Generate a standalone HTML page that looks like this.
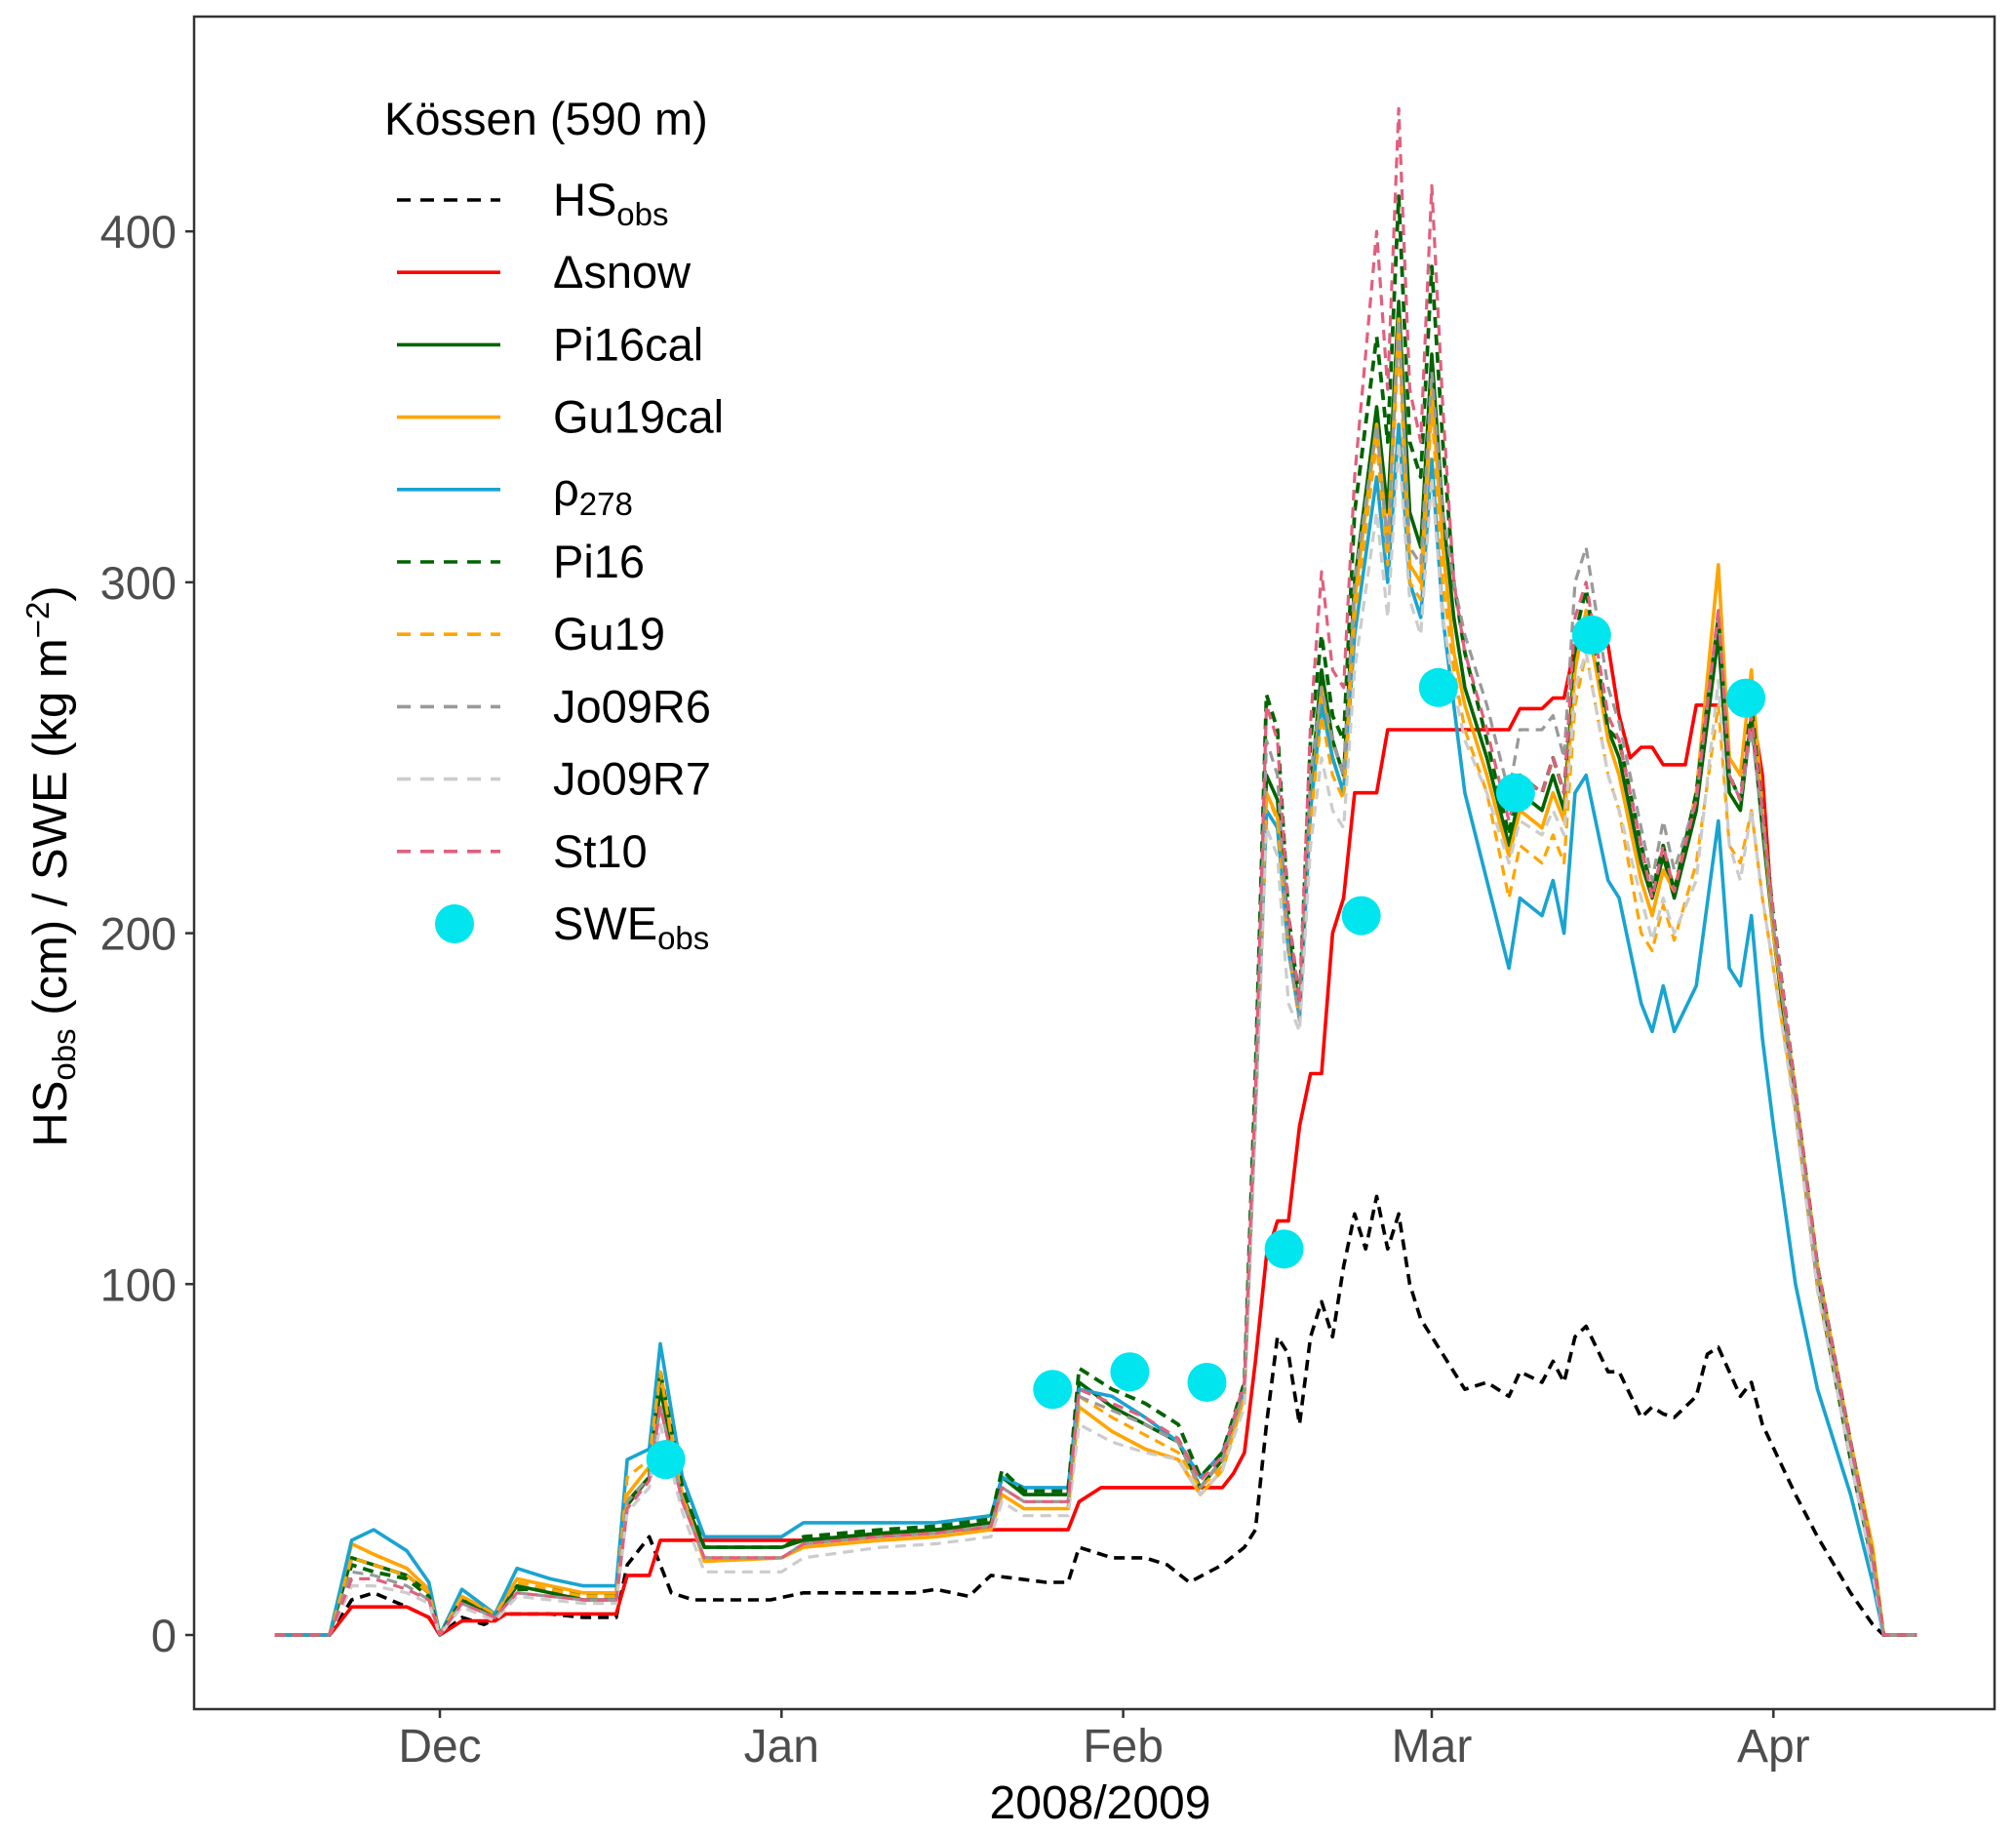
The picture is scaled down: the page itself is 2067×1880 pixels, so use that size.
<!DOCTYPE html>
<html><head><meta charset="utf-8"><style>
html,body{margin:0;padding:0;background:#fff}
svg{display:block;font-family:"Liberation Sans",Arial,sans-serif}
</style></head><body>
<svg id="chart" width="2067" height="1880" viewBox="0 0 2067 1880" xmlns="http://www.w3.org/2000/svg">
<rect x="0" y="0" width="2067" height="1880" fill="#fff"/>
<g id="series"></g>
<rect x="199" y="17" width="1846" height="1735" fill="none" stroke="#333" stroke-width="2.5"/>
<g id="axes"></g>
<text x="1128" y="1864" font-size="48" text-anchor="middle" fill="#000">2008/2009</text>
<text transform="translate(68,888) rotate(-90)" font-size="49" text-anchor="middle" fill="#000">HS<tspan font-size="33" dy="9">obs</tspan><tspan dy="-9"> (cm) / SWE (kg m</tspan><tspan font-size="33" dy="-18">−2</tspan><tspan dy="18">)</tspan></text>
<g font-size="47" fill="#000">
<text x="394" y="138">Kössen (590 m)</text>
</g>
<g id="legend-entries" font-size="47"></g>
</svg>
<script>
const NS="http://www.w3.org/2000/svg";
const days=[-15,-10,-8,-6,-3,-1,0,2,5,7,10,13,16,17,19,20,22,24,31,33,40,45,50,51,53,57,58,61,64,67,69,71,73,74,75,76,77,78,79,80,81,82,83,85,86,87,88,89,90,91,92,93,95,97,98,100,101,102,103,104,106,107,109,110,111,112,114,116,117,118,119,120,121,123,125,128,130,131,134];
const pi16cal=[0,0,22,20,17,12,0,10,5,14,12,10,10,38,45,70,40,25,25,27,29,30,32,45,40,40,72,65,60,55,42,50,70,150,245,238,200,178,240,275,255,245,300,350,320,380,320,310,365,320,290,270,250,225,240,235,245,235,280,290,258,250,220,210,222,210,235,285,240,235,262,230,200,150,100,50,20,0,0];
const gu19cal=[0,0,26,23,19,13,0,11,6,16,14,12,12,40,48,75,40,21,22,25,27,28,30,40,36,36,65,58,53,50,40,47,68,150,240,233,195,176,235,270,250,240,295,345,310,375,305,300,355,310,280,265,245,222,235,230,240,232,275,292,255,245,215,205,218,212,240,305,250,245,275,235,200,155,105,55,25,0,0];
const rho278=[0,0,27,30,24,15,0,13,6,19,16,14,14,50,53,83,45,28,28,32,32,32,34,45,42,42,70,68,62,55,45,52,70,150,235,230,195,176,235,265,250,240,285,330,300,345,300,290,335,290,265,240,215,190,210,205,215,200,240,245,215,210,180,172,185,172,185,232,190,185,205,170,145,100,70,40,15,0,0];
const pi16=[0,0,20,18,16,11,0,10,5,13,13,11,11,37,45,75,42,25,25,28,30,31,33,47,41,41,76,70,66,60,45,52,72,160,268,258,205,180,255,285,262,255,320,370,340,410,340,330,390,340,300,280,255,228,245,240,250,240,285,298,258,255,225,212,225,212,240,290,245,238,265,235,205,155,105,55,22,0,0];
const gu19=[0,0,22,20,17,12,0,11,6,15,13,11,11,45,50,75,38,22,22,26,28,29,31,42,38,38,68,62,57,52,42,48,68,150,240,232,195,175,232,262,245,238,290,340,305,370,300,295,350,300,275,258,240,210,225,220,228,220,265,280,245,235,200,195,208,198,220,265,225,220,235,210,190,150,100,52,22,0,0];
const jo09r6=[0,0,18,17,14,10,0,9,5,12,11,10,10,38,45,65,38,22,22,26,28,29,31,42,38,38,68,64,60,55,42,50,70,150,255,245,195,175,245,270,255,245,300,345,310,375,310,305,360,320,300,285,265,240,258,258,262,250,300,310,270,260,230,215,232,218,238,292,245,238,258,232,202,152,102,52,20,0,0];
const jo09r7=[0,0,14,14,12,9,0,8,4,11,10,9,9,35,42,60,35,18,18,22,25,26,28,38,34,34,60,55,52,50,40,47,65,145,230,222,180,172,225,250,235,230,275,320,290,340,295,285,330,290,270,255,240,220,232,228,235,228,270,280,245,235,210,198,210,200,215,272,225,215,235,210,190,148,98,50,18,0,0];
const st10=[0,0,16,16,13,10,0,9,5,12,11,10,10,36,44,65,38,22,22,26,28,29,31,42,38,38,70,66,62,56,44,51,72,155,265,255,205,180,260,303,275,270,330,400,355,435,355,340,413,350,300,280,258,232,245,240,250,240,290,300,262,255,225,210,225,212,238,292,245,238,262,235,205,155,105,55,22,0,0];
const snowDays=[-15,-10,-8,-3,-1,0,2,5,6,16,17,19,20,22,33,45,57,58,60,71,72,73,74,75,76,77,78,79,80,81,82,83,85,86,97,98,100,101,102,103,106,107,108,109,110,111,113,114,119,120,121,123,125,128,130,131,134];
const snowVals=[0,0,8,8,5,0,4,4,6,6,17,17,27,27,27,30,30,38,42,42,46,52,78,108,118,118,145,160,160,200,210,240,240,258,258,264,264,267,267,282,282,262,250,253,253,248,248,265,265,245,200,150,100,50,20,0,0];
const hsDays=[-15,-10,-8,-6,-3,-1,0,2,4,6,10,13,16,17,19,20,21,23,30,33,43,45,48,50,55,57,58,61,64,66,68,71,73,74,75,76,77,78,79,80,81,82,83,84,85,86,87,88,89,91,93,95,97,98,100,101,102,103,104,106,107,109,110,111,112,114,115,116,117,118,119,120,123,125,128,130,131,134];
const hsVals=[0,0,10,12,8,5,0,5,3,6,6,5,5,20,28,20,12,10,10,12,12,13,11,17,15,15,25,22,22,20,15,20,25,30,60,85,80,60,85,95,85,105,120,110,125,110,120,100,90,80,70,72,68,75,72,78,72,85,88,75,75,62,65,63,62,68,80,82,75,68,72,60,40,28,12,3,0,0];
const sweDays=[20.5,55.6,62.6,69.6,76.6,83.6,90.6,97.6,104.5,118.5];
const sweVals=[50,70,75,72,110,205,270,240,285,267];
const yTicks=[0,100,200,300,400];
const xTickDays=[0,31,62,90,121];
const xTickLabels=["Dec","Jan","Feb","Mar","Apr"];

const X=t=>451+11.30*t;
const Y=v=>1676-v*3.597;

const ser=document.getElementById('series');
function line(ds,vs,color,dash,name,w){
  const p=document.createElementNS(NS,'path');
  let d='';
  for(let i=0;i<ds.length;i++){d+=(i?'L':'M')+X(ds[i]).toFixed(1)+','+Y(vs[i]).toFixed(1);}
  p.setAttribute('d',d);
  p.setAttribute('fill','none');
  p.setAttribute('stroke',color);
  p.setAttribute('stroke-width',w||3.6);
  p.setAttribute('stroke-linejoin','round');
  if(dash)p.setAttribute('stroke-dasharray',dash);
  
  
  ser.appendChild(p);
}
line(hsDays,hsVals,'#000','11,7','hs-obs-line',3.6);
line(snowDays,snowVals,'#FF0000',null,'delta-snow-line',3.6);
line(days,pi16cal,'#006400',null,'pi16cal-line',3.6);
line(days,gu19cal,'#FFA500',null,'gu19cal-line',3.6);
line(days,rho278,'#19A4D0',null,'rho278-line',3.6);
line(days,pi16,'#006400','11,7','pi16-line',3.8);
line(days,gu19,'#FFA500','11,7','gu19-line',3.2);
line(days,jo09r6,'#999999','11,7','jo09r6-line',3.2);
line(days,jo09r7,'#CCCCCC','11,7','jo09r7-line',3.2);
line(days,st10,'#E0607E','11,7','st10-line',3.2);
for(let i=0;i<sweDays.length;i++){
  const c=document.createElementNS(NS,'ellipse');
  c.setAttribute('cx',X(sweDays[i]));
  c.setAttribute('cy',Y(sweVals[i]));
  c.setAttribute('rx',20);c.setAttribute('ry',20);
  c.setAttribute('fill','#00E5EE');
  
  
  ser.appendChild(c);
}
const ax=document.getElementById('axes');
yTicks.forEach(v=>{
  const l=document.createElementNS(NS,'line');
  l.setAttribute('x1',190);l.setAttribute('x2',199);l.setAttribute('y1',Y(v));l.setAttribute('y2',Y(v));
  l.setAttribute('stroke','#333');l.setAttribute('stroke-width',2.5);
  
  
  ax.appendChild(l);
  const t=document.createElementNS(NS,'text');
  t.setAttribute('x',181);t.setAttribute('y',Y(v)+17);t.setAttribute('font-size',47);
  t.setAttribute('text-anchor','end');t.setAttribute('fill','#4d4d4d');t.textContent=v;
  
  
  ax.appendChild(t);
});
xTickDays.forEach((d,i)=>{
  const l=document.createElementNS(NS,'line');
  l.setAttribute('x1',X(d));l.setAttribute('x2',X(d));l.setAttribute('y1',1752);l.setAttribute('y2',1761);
  l.setAttribute('stroke','#333');l.setAttribute('stroke-width',2.5);
  
  
  ax.appendChild(l);
  const t=document.createElementNS(NS,'text');
  t.setAttribute('x',X(d));t.setAttribute('y',1806);t.setAttribute('font-size',48);
  t.setAttribute('text-anchor','middle');t.setAttribute('fill','#4d4d4d');t.textContent=xTickLabels[i];
  
  
  ax.appendChild(t);
});
const leg=document.getElementById('legend-entries');
const legItems=[
 ['HS','obs','#000','d','legend-hs-obs'],
 ['Δsnow','','#FF0000',null,'legend-delta-snow'],
 ['Pi16cal','','#006400',null,'legend-pi16cal'],
 ['Gu19cal','','#FFA500',null,'legend-gu19cal'],
 ['ρ','278','#19A4D0',null,'legend-rho278'],
 ['Pi16','','#006400','d','legend-pi16'],
 ['Gu19','','#FFA500','d','legend-gu19'],
 ['Jo09R6','','#999999','d','legend-jo09r6'],
 ['Jo09R7','','#CCCCCC','d','legend-jo09r7'],
 ['St10','','#E0607E','d','legend-st10'],
 ['SWE','obs','#00E5EE','dot','legend-swe-obs']
];
legItems.forEach((it,i)=>{
  const y=205+i*74.2;
  const g=document.createElementNS(NS,'g');
  
  
  if(it[3]==='dot'){
    const c=document.createElementNS(NS,'ellipse');
    c.setAttribute('cx',466);c.setAttribute('cy',y);c.setAttribute('rx',20);c.setAttribute('ry',20);c.setAttribute('fill',it[2]);
    g.appendChild(c);
  } else {
    const l=document.createElementNS(NS,'line');
    l.setAttribute('x1',407);l.setAttribute('x2',513);l.setAttribute('y1',y);l.setAttribute('y2',y);
    l.setAttribute('stroke',it[2]);l.setAttribute('stroke-width',3.6);
    if(it[3])l.setAttribute('stroke-dasharray','14,10');
    g.appendChild(l);
  }
  const t=document.createElementNS(NS,'text');
  t.setAttribute('x',567);t.setAttribute('y',y+16);t.setAttribute('fill','#000');
  t.textContent=it[0];
  if(it[1]){
    const s=document.createElementNS(NS,'tspan');
    s.setAttribute('font-size',33);s.setAttribute('dy',10);s.textContent=it[1];
    t.appendChild(s);
  }
  g.appendChild(t);
  leg.appendChild(g);
});
</script>
</body></html>
